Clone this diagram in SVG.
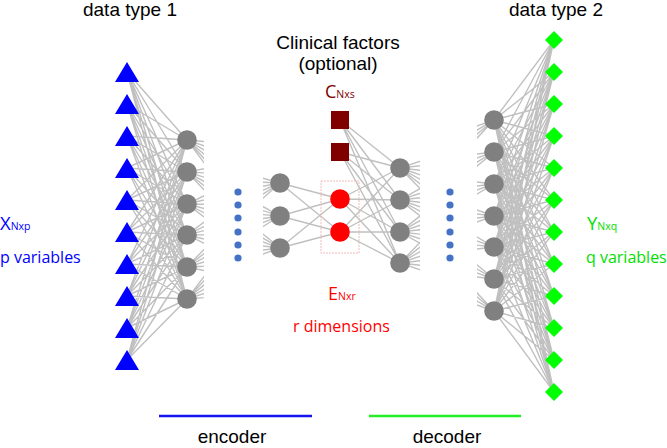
<svg xmlns="http://www.w3.org/2000/svg" width="667" height="448" viewBox="0 0 667 448">
<style>
.ln{fill:none;stroke:#C0C0C0;stroke-width:1.4}
.g{fill:#808080}
.r{fill:#FF0000}
.t{font-family:"Liberation Sans",Arial,sans-serif;font-size:19px;fill:#000;text-anchor:middle}
.lb{font-family:"Open Sans","Noto Sans",sans-serif}
.dot{fill:#4472C4}
</style>
<defs>
<polygon id="tri" points="0,-10 12,10 -12,10" fill="#0000FF"/>
<polygon id="dia" points="0,-9 9,0 0,9 -9,0" fill="#00FF00"/>
<circle id="gc" r="9.8" fill="#808080"/>
<clipPath id="c1"><rect x="187" y="0" width="17" height="448"/></clipPath>
<clipPath id="c2"><rect x="263" y="0" width="17" height="448"/></clipPath>
<clipPath id="c3"><rect x="400" y="0" width="20" height="448"/></clipPath>
<clipPath id="c4"><rect x="477" y="0" width="17" height="448"/></clipPath>
</defs>
<rect width="667" height="448" fill="#fff"/>

<g id="connectors">
<path class="ln" d="M127 72L187 140M127 72L187 172M127 72L187 204M127 72L187 235M127 72L187 267M127 72L187 299
M127 104L187 140M127 104L187 172M127 104L187 204M127 104L187 235M127 104L187 267M127 104L187 299
M127 136L187 140M127 136L187 172M127 136L187 204M127 136L187 235M127 136L187 267M127 136L187 299
M127 168L187 140M127 168L187 172M127 168L187 204M127 168L187 235M127 168L187 267M127 168L187 299
M127 200L187 140M127 200L187 172M127 200L187 204M127 200L187 235M127 200L187 267M127 200L187 299
M127 232L187 140M127 232L187 172M127 232L187 204M127 232L187 235M127 232L187 267M127 232L187 299
M127 264L187 140M127 264L187 172M127 264L187 204M127 264L187 235M127 264L187 267M127 264L187 299
M127 296L187 140M127 296L187 172M127 296L187 204M127 296L187 235M127 296L187 267M127 296L187 299
M127 328L187 140M127 328L187 172M127 328L187 204M127 328L187 235M127 328L187 267M127 328L187 299
M127 360L187 140M127 360L187 172M127 360L187 204M127 360L187 235M127 360L187 267M127 360L187 299"/>
<path class="ln" clip-path="url(#c1)" d="M187 140L300 150M187 140L300 178M187 140L300 206M187 140L300 234M187 140L300 262M187 140L300 290
M187 172L300 150M187 172L300 178M187 172L300 206M187 172L300 234M187 172L300 262M187 172L300 290
M187 204L300 150M187 204L300 178M187 204L300 206M187 204L300 234M187 204L300 262M187 204L300 290
M187 235L300 150M187 235L300 178M187 235L300 206M187 235L300 234M187 235L300 262M187 235L300 290
M187 267L300 150M187 267L300 178M187 267L300 206M187 267L300 234M187 267L300 262M187 267L300 290
M187 299L300 150M187 299L300 178M187 299L300 206M187 299L300 234M187 299L300 262M187 299L300 290"/>
<path class="ln" clip-path="url(#c2)" d="M280 183L160 150M280 183L160 178M280 183L160 206M280 183L160 234M280 183L160 262M280 183L160 290
M280 216L160 150M280 216L160 178M280 216L160 206M280 216L160 234M280 216L160 262M280 216L160 290
M280 248L160 150M280 248L160 178M280 248L160 206M280 248L160 234M280 248L160 262M280 248L160 290"/>
<path class="ln" d="M280 183L340 199M280 183L340 232M280 216L340 199M280 216L340 232M280 248L340 199M280 248L340 232
M340 120L400 168M340 120L400 200M340 120L400 232M340 120L400 263
M340 152L400 168M340 152L400 200M340 152L400 232M340 152L400 263
M340 199L400 168M340 199L400 200M340 199L400 232M340 199L400 263
M340 232L400 168M340 232L400 200M340 232L400 232M340 232L400 263"/>
<path class="ln" clip-path="url(#c3)" d="M400 168L540 120M400 168L540 152M400 168L540 184M400 168L540 216M400 168L540 247M400 168L540 279M400 168L540 311
M400 200L540 120M400 200L540 152M400 200L540 184M400 200L540 216M400 200L540 247M400 200L540 279M400 200L540 311
M400 232L540 120M400 232L540 152M400 232L540 184M400 232L540 216M400 232L540 247M400 232L540 279M400 232L540 311
M400 263L540 120M400 263L540 152M400 263L540 184M400 263L540 216M400 263L540 247M400 263L540 279M400 263L540 311"/>
<path class="ln" clip-path="url(#c4)" d="M494 120L360 168M494 120L360 200M494 120L360 232M494 120L360 263
M494 152L360 168M494 152L360 200M494 152L360 232M494 152L360 263
M494 184L360 168M494 184L360 200M494 184L360 232M494 184L360 263
M494 216L360 168M494 216L360 200M494 216L360 232M494 216L360 263
M494 247L360 168M494 247L360 200M494 247L360 232M494 247L360 263
M494 279L360 168M494 279L360 200M494 279L360 232M494 279L360 263
M494 311L360 168M494 311L360 200M494 311L360 232M494 311L360 263"/>
<path class="ln" d="M554 40L494 120M554 40L494 152M554 40L494 184M554 40L494 216M554 40L494 247M554 40L494 279M554 40L494 311
M554 72L494 120M554 72L494 152M554 72L494 184M554 72L494 216M554 72L494 247M554 72L494 279M554 72L494 311
M554 104L494 120M554 104L494 152M554 104L494 184M554 104L494 216M554 104L494 247M554 104L494 279M554 104L494 311
M554 136L494 120M554 136L494 152M554 136L494 184M554 136L494 216M554 136L494 247M554 136L494 279M554 136L494 311
M554 168L494 120M554 168L494 152M554 168L494 184M554 168L494 216M554 168L494 247M554 168L494 279M554 168L494 311
M554 200L494 120M554 200L494 152M554 200L494 184M554 200L494 216M554 200L494 247M554 200L494 279M554 200L494 311
M554 232L494 120M554 232L494 152M554 232L494 184M554 232L494 216M554 232L494 247M554 232L494 279M554 232L494 311
M554 264L494 120M554 264L494 152M554 264L494 184M554 264L494 216M554 264L494 247M554 264L494 279M554 264L494 311
M554 296L494 120M554 296L494 152M554 296L494 184M554 296L494 216M554 296L494 247M554 296L494 279M554 296L494 311
M554 328L494 120M554 328L494 152M554 328L494 184M554 328L494 216M554 328L494 247M554 328L494 279M554 328L494 311
M554 360L494 120M554 360L494 152M554 360L494 184M554 360L494 216M554 360L494 247M554 360L494 279M554 360L494 311
M554 392L494 120M554 392L494 152M554 392L494 184M554 392L494 216M554 392L494 247M554 392L494 279M554 392L494 311"/>
</g>

<g id="input-nodes">
<g id="x1"><use href="#tri" x="127" y="72"/></g>
<g id="x2"><use href="#tri" x="127" y="104"/></g>
<g id="x3"><use href="#tri" x="127" y="136"/></g>
<g id="x4"><use href="#tri" x="127" y="168"/></g>
<g id="x5"><use href="#tri" x="127" y="200"/></g>
<g id="x6"><use href="#tri" x="127" y="232"/></g>
<g id="x7"><use href="#tri" x="127" y="264"/></g>
<g id="x8"><use href="#tri" x="127" y="296"/></g>
<g id="x9"><use href="#tri" x="127" y="328"/></g>
<g id="x10"><use href="#tri" x="127" y="360"/></g>
</g>

<g id="enc-hidden1">
<g id="h1a"><use href="#gc" x="187" y="140"/></g>
<g id="h1b"><use href="#gc" x="187" y="172"/></g>
<g id="h1c"><use href="#gc" x="187" y="204"/></g>
<g id="h1d"><use href="#gc" x="187" y="235"/></g>
<g id="h1e"><use href="#gc" x="187" y="267"/></g>
<g id="h1f"><use href="#gc" x="187" y="299"/></g>
</g>

<g id="dots-left">
<circle class="dot" cx="238" cy="192" r="3.6"/>
<circle class="dot" cx="238" cy="205" r="3.6"/>
<circle class="dot" cx="238" cy="218" r="3.6"/>
<circle class="dot" cx="238" cy="232" r="3.6"/>
<circle class="dot" cx="238" cy="245" r="3.6"/>
<circle class="dot" cx="238" cy="258" r="3.6"/>
</g>

<g id="enc-hidden2">
<g id="h2a"><use href="#gc" x="280" y="183"/></g>
<g id="h2b"><use href="#gc" x="280" y="216"/></g>
<g id="h2c"><use href="#gc" x="280" y="248"/></g>
</g>

<g id="latent">
<rect x="321" y="181" width="38" height="72" fill="none" stroke="#F2B8B8" stroke-width="1" stroke-dasharray="2,1"/>
<g id="e1"><circle class="r" cx="340" cy="199" r="9.8"/></g>
<g id="e2"><circle class="r" cx="340" cy="232" r="9.8"/></g>
</g>

<g id="clinical">
<g id="c1n"><rect x="331" y="111" width="18" height="18" fill="#800000"/></g>
<g id="c2n"><rect x="331" y="143" width="18" height="18" fill="#800000"/></g>
</g>

<g id="dec-hidden1">
<g id="h3a"><use href="#gc" x="400" y="168"/></g>
<g id="h3b"><use href="#gc" x="400" y="200"/></g>
<g id="h3c"><use href="#gc" x="400" y="232"/></g>
<g id="h3d"><use href="#gc" x="400" y="263"/></g>
</g>

<g id="dots-right">
<circle class="dot" cx="450" cy="192" r="3.6"/>
<circle class="dot" cx="450" cy="205" r="3.6"/>
<circle class="dot" cx="450" cy="218" r="3.6"/>
<circle class="dot" cx="450" cy="232" r="3.6"/>
<circle class="dot" cx="450" cy="245" r="3.6"/>
<circle class="dot" cx="450" cy="258" r="3.6"/>
</g>

<g id="dec-hidden2">
<g id="h4a"><use href="#gc" x="494" y="120"/></g>
<g id="h4b"><use href="#gc" x="494" y="152"/></g>
<g id="h4c"><use href="#gc" x="494" y="184"/></g>
<g id="h4d"><use href="#gc" x="494" y="216"/></g>
<g id="h4e"><use href="#gc" x="494" y="247"/></g>
<g id="h4f"><use href="#gc" x="494" y="279"/></g>
<g id="h4g"><use href="#gc" x="494" y="311"/></g>
</g>

<g id="output-nodes">
<g id="y1"><use href="#dia" x="554" y="40"/></g>
<g id="y2"><use href="#dia" x="554" y="72"/></g>
<g id="y3"><use href="#dia" x="554" y="104"/></g>
<g id="y4"><use href="#dia" x="554" y="136"/></g>
<g id="y5"><use href="#dia" x="554" y="168"/></g>
<g id="y6"><use href="#dia" x="554" y="200"/></g>
<g id="y7"><use href="#dia" x="554" y="232"/></g>
<g id="y8"><use href="#dia" x="554" y="264"/></g>
<g id="y9"><use href="#dia" x="554" y="296"/></g>
<g id="y10"><use href="#dia" x="554" y="328"/></g>
<g id="y11"><use href="#dia" x="554" y="360"/></g>
<g id="y12"><use href="#dia" x="554" y="392"/></g>
</g>

<g id="labels">
<text class="t" x="130" y="16">data type 1</text>
<text class="t" x="556" y="16">data type 2</text>
<text class="t" x="338" y="49">Clinical factors</text>
<text class="t" x="338" y="70">(optional)</text>
<text class="lb" x="325" y="98" fill="#800000" font-size="18">C<tspan font-size="10.5">Nxs</tspan></text>
<text class="lb" x="0" y="230" fill="#0000FF" font-size="18.5">X<tspan font-size="10.5">Nxp</tspan></text>
<text class="lb" x="0" y="263" fill="#0000FF" font-size="16">p variables</text>
<text class="lb" x="587" y="230" fill="#00E000" font-size="18.5">Y<tspan font-size="10.5">Nxq</tspan></text>
<text class="lb" x="586" y="263" fill="#00E000" font-size="16">q variables</text>
<text class="lb" x="328" y="300" fill="#FF0000" font-size="18">E<tspan font-size="10.5">Nxr</tspan></text>
<text class="lb" x="293" y="332" fill="#FF0000" font-size="16">r dimensions</text>
<line x1="159" y1="416" x2="312" y2="416" stroke="#1414F0" stroke-width="2.5"/>
<line x1="369" y1="416" x2="521" y2="416" stroke="#22EE22" stroke-width="2.5"/>
<text class="t" x="232" y="443">encoder</text>
<text class="t" x="447" y="443">decoder</text>
</g>
</svg>
